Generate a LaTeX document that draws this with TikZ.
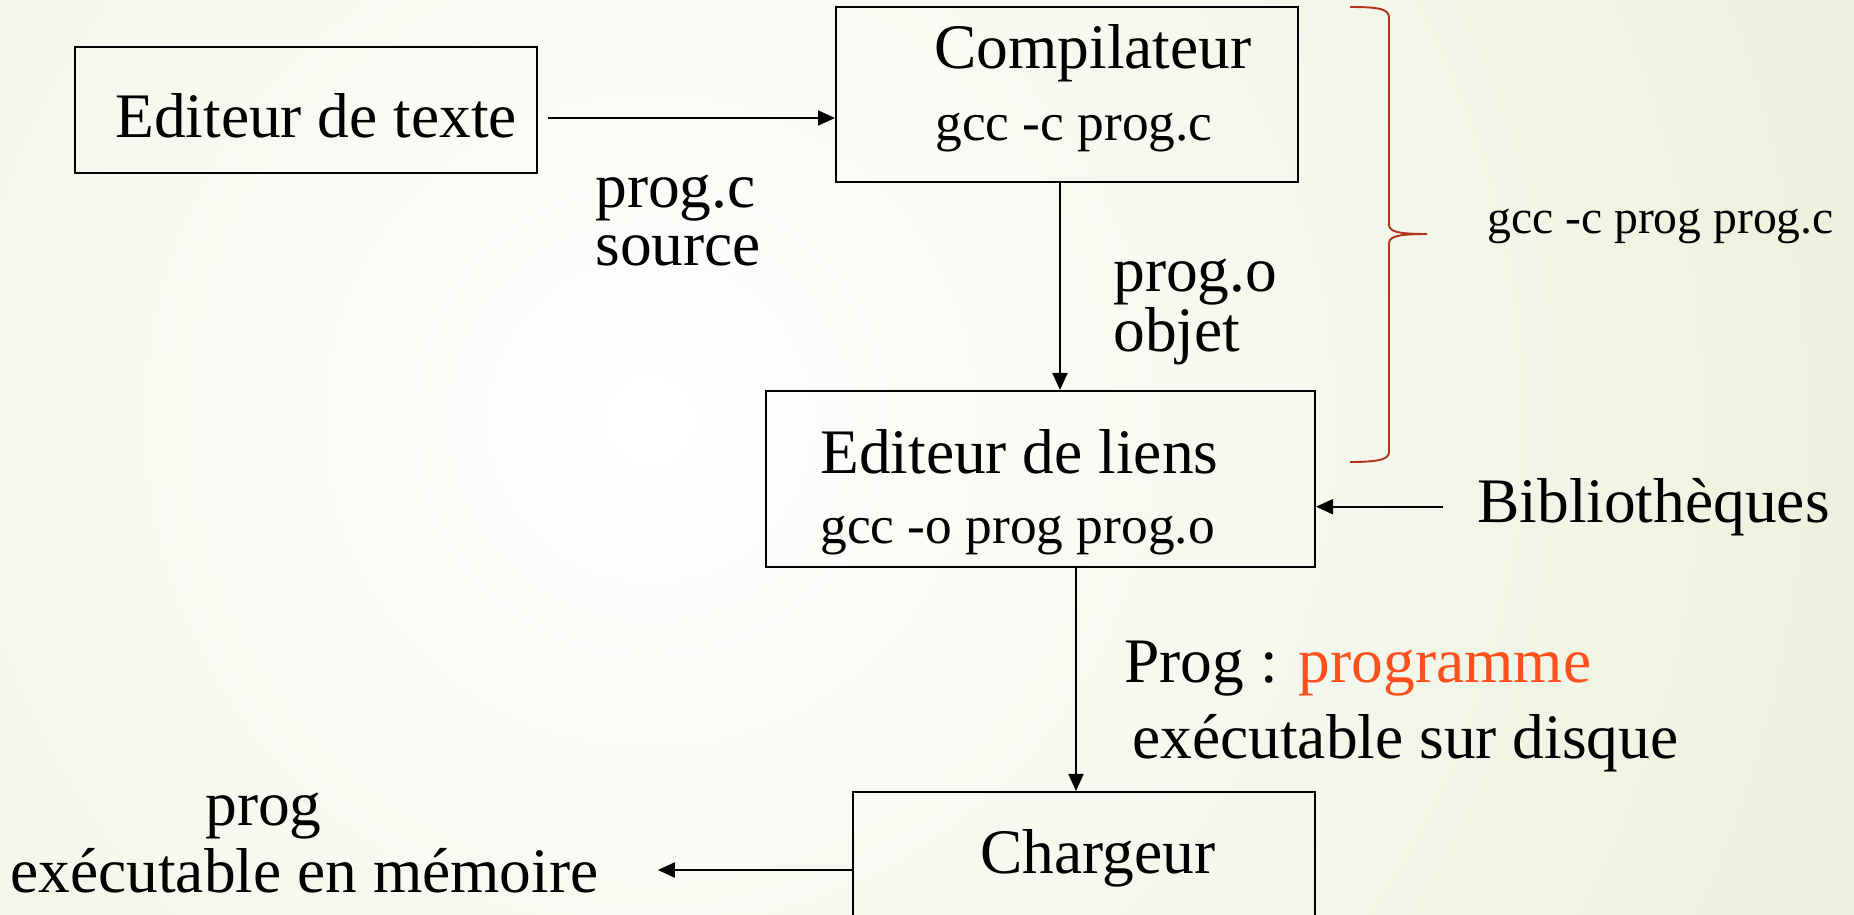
\documentclass[tikz,border=0pt]{standalone}
\usepackage{fontspec}
\setmainfont{Liberation Serif}
\usepackage{xcolor}
\usetikzlibrary{positioning}
\usetikzlibrary{arrows.meta}
\definecolor{bggreen}{RGB}{218,229,190}
\definecolor{bracered}{RGB}{178,52,26}
\definecolor{progred}{RGB}{255,80,30}

\begin{document}
\begin{tikzpicture}[x=0.02cm, y=-0.02cm,
  box/.style={draw, line width=1.2pt, inner sep=0pt, minimum width=9.24cm},
  txt/.style={inner sep=0pt, anchor=base west, align=left},
  big/.style={font=\fontsize{36.1pt}{#1}\selectfont},
  big/.default=1.2cm,
  mid/.style={font=\fontsize{30.4pt}{36pt}\selectfont},
  small/.style={font=\fontsize{27.1pt}{32pt}\selectfont},
  arrow/.style={-{Triangle[length=0.34cm,width=0.3cm]}, line width=1.1pt}
]
\useasboundingbox (0,0) rectangle (1854,914);
\fill[bggreen] (0,0) rectangle (1854,914);
\begin{scope}
  \clip (0,0) rectangle (1854,914);
  \shade[inner color=white, outer color=bggreen] (650,420) circle (2400);
\end{scope}

\node[box, minimum height=2.52cm] (texte) at (306,110) {};
\node[box, minimum height=3.5cm] (compil) at (1067,94.5) {};
\node[box, minimum width=10.98cm, minimum height=3.52cm] (liens) at (1040.5,479) {};
\node[box, minimum height=3.36cm] (charg) at (1084,876) {};

\node[txt, big] (textetxt) at (115,137) {Editeur de texte};
\node[txt, big] (compiltxt) at (934,68) {Compilateur};
\node[txt, mid] (compilcmd) at (935,140) {gcc -c prog.c};
\node[txt, big] (lienstxt) at (820,473) {Editeur de liens};
\node[txt, mid] (lienscmd) at (820,543) {gcc -o prog prog.o};
\node[txt, big] (chargtxt) at (980,873) {Chargeur};

\node[txt, big=1.16cm] (source) at (595,265) {prog.c\\source};
\node[txt, big=1.0cm] (objet) at (1113,351) {prog.o\\objet};
\node[txt, big=1.52cm] (disque) at (1124,758) {Prog : \textcolor{progred}{programme}\\\hspace*{0.16cm}exécutable sur disque};
\node[txt, big=1.34cm] (memoire) at (10,892) {\hspace*{3.9cm}prog\\exécutable en mémoire};
\node[txt, big] (biblio) at (1477,522) {Bibliothèques};
\node[txt, small] (gcclink) at (1487,233) {gcc -c prog prog.c};

\draw[arrow] ([shift={(10,8)}]texte.east) -- ([shift={(0,8)}]texte.east -| compil.west);
\draw[arrow] ([xshift=-0.14cm]compil.south) -- ([xshift=-0.14cm]compil.south |- liens.north);
\draw[arrow] ([xshift=0.71cm]liens.south) -- ([xshift=0.71cm]liens.south |- charg.north);
\draw[arrow] ([xshift=-0.68cm]biblio.west) -- (biblio.west -| liens.east);
\draw[arrow] ([yshift=0.12cm]charg.west) -- ([shift={(59,-6)}]charg.west -| memoire.east);

\draw[bracered, line width=1.1pt] (1350,7) .. controls (1380,7) and (1389,9) .. (1389,18)
  -- (1389,224) .. controls (1389,231) and (1395,234) .. (1427,234)
  .. controls (1395,234) and (1389,237) .. (1389,244)
  -- (1389,452) .. controls (1389,459) and (1380,462) .. (1350,462);
\end{tikzpicture}
\end{document}
